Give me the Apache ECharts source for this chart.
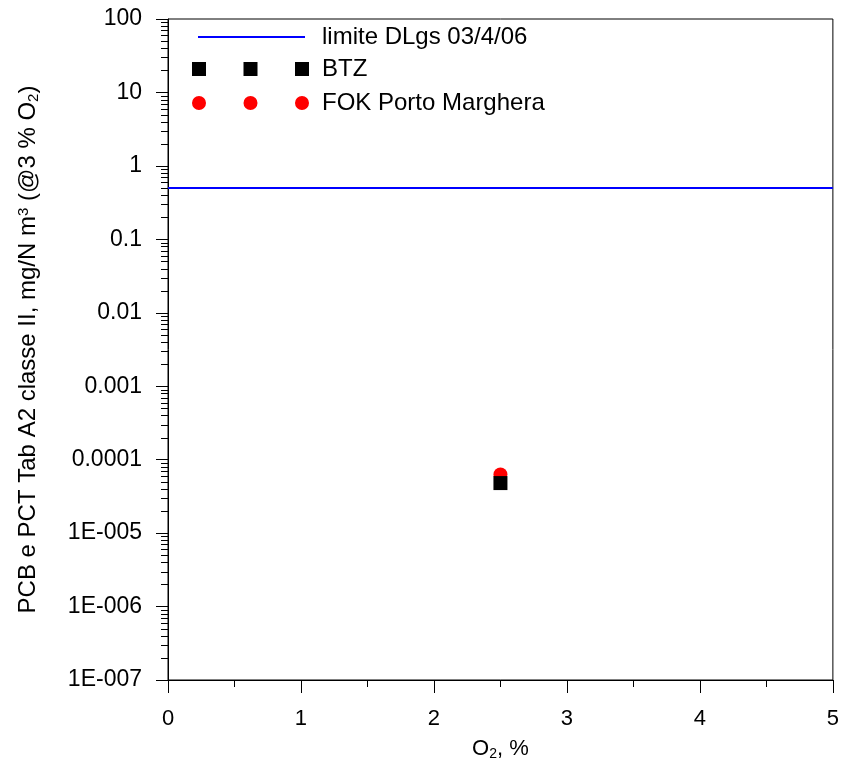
<!DOCTYPE html>
<html>
<head>
<meta charset="utf-8">
<script src="https://cdn.jsdelivr.net/npm/echarts@6/dist/echarts.min.js"></script>
<style>html,body{margin:0;padding:0;background:#fff;}#c{width:842px;height:767px;}</style>
</head>
<body>
<div id="c"></div>
<script>
// Data
const limitX = [0, 5];
const limitY = [0.5, 0.5];
const btzX = [2.5];
const btzY = [4.8e-5];
const fokX = [2.5];
const fokY = [6.3e-5];
const xTicks = ['0', '1', '2', '3', '4', '5'];
const yTickLabels = {'2':'100','1':'10','0':'1','-1':'0.1','-2':'0.01','-3':'0.001','-4':'0.0001','-5':'1E-005','-6':'1E-006','-7':'1E-007'};
const decades = [-7, -6, -5, -4, -3, -2, -1, 0, 1];
const minorMults = [2, 3, 4, 5, 6, 7, 8, 9];

const minorVals = [];
decades.forEach(d => minorMults.forEach(m => minorVals.push([0, m * Math.pow(10, d)])));

const font = 'Liberation Sans, Arial, sans-serif';
const chart = echarts.init(document.getElementById('c'), null, {renderer: 'canvas'});

const sqIcon = 'path://M0,0h14v14h-14z M51.5,0h14v14h-14z M103,0h14v14h-14z';
const ciIcon = 'path://M0,7a7,7 0 1,0 14,0a7,7 0 1,0 -14,0z M51.5,7a7,7 0 1,0 14,0a7,7 0 1,0 -14,0z M103,7a7,7 0 1,0 14,0a7,7 0 1,0 -14,0z';

chart.setOption({
  animation: false,
  backgroundColor: '#fff',
  grid: {left: 168, top: 19, right: 9, bottom: 87, show: true, borderColor: '#000', borderWidth: 1, backgroundColor: 'transparent'},
  legend: [
    {
      data: [{name: 'limite DLgs 03/4/06', icon: 'rect'}],
      left: 198, top: 25, padding: 0, itemWidth: 107, itemHeight: 2,
      textStyle: {fontFamily: font, fontSize: 24, color: '#000', padding: [0, 0, 0, 12]},
      selectedMode: false
    },
    {
      data: [{name: 'BTZ', icon: sqIcon}, {name: 'FOK Porto Marghera', icon: ciIcon}],
      orient: 'vertical',
      left: 192, top: 57, padding: 0, itemWidth: 117, itemHeight: 14, itemGap: 10,
      textStyle: {fontFamily: font, fontSize: 24, color: '#000', padding: [0, 0, 0, 8]},
      selectedMode: false
    }
  ],
  xAxis: {
    type: 'value', min: 0, max: 5, interval: 1,
    axisLine: {show: true, onZero: false, lineStyle: {color: '#000', width: 1}},
    axisTick: {show: true, inside: false, length: 13, lineStyle: {color: '#000'}},
    minorTick: {show: true, splitNumber: 2, length: 7, lineStyle: {color: '#000'}},
    splitLine: {show: false},
    axisLabel: {fontFamily: font, fontSize: 22, color: '#000', margin: 28,
      formatter: v => xTicks[Math.round(v)]},
    name: '{n|O}{s|2}{n|, %}', nameLocation: 'middle', nameGap: 57,
    nameTextStyle: {rich: {
      n: {fontFamily: font, fontSize: 22, color: '#000'},
      s: {fontFamily: font, fontSize: 14, color: '#000', verticalAlign: 'bottom', padding: [10, 0, 0, 0]}
    }}
  },
  yAxis: {
    type: 'log', logBase: 10, min: 1e-7, max: 100, interval: 1,
    axisLine: {show: true, onZero: false, lineStyle: {color: '#000', width: 1}},
    axisTick: {show: true, inside: false, length: 12, lineStyle: {color: '#000'}},
    splitLine: {show: false},
    axisLabel: {fontFamily: font, fontSize: 23, color: '#000', margin: 26,
      formatter: v => yTickLabels[String(Math.round(Math.log10(v)))] || ''},
    name: '{n|PCB e PCT Tab A2 classe II, mg/N m}{p|3}{n| (@3 % O}{s|2}{n|)}',
    nameLocation: 'middle', nameGap: 127, nameRotate: 90,
    nameTextStyle: {rich: {
      n: {fontFamily: font, fontSize: 24, color: '#000'},
      p: {fontFamily: font, fontSize: 15, color: '#000', verticalAlign: 'top', padding: [0, 0, 10, 0]},
      s: {fontFamily: font, fontSize: 15, color: '#000', verticalAlign: 'bottom', padding: [10, 0, 0, 0]}
    }}
  },
  series: [
    {
      name: 'limite DLgs 03/4/06', type: 'line', symbol: 'none', showSymbol: false,
      data: limitX.map((x, i) => [x, limitY[i]]),
      lineStyle: {color: '#0000ff', width: 2}, itemStyle: {color: '#0000ff'}, z: 2
    },
    {
      name: 'FOK Porto Marghera', type: 'scatter', symbol: 'circle', symbolSize: 14,
      data: fokX.map((x, i) => [x, fokY[i]]),
      itemStyle: {color: '#ff0000', opacity: 1}, z: 3
    },
    {
      name: 'BTZ', type: 'scatter', symbol: 'rect', symbolSize: 14,
      data: btzX.map((x, i) => [x, btzY[i]]),
      itemStyle: {color: '#000000', opacity: 1}, z: 4
    },
    {
      name: 'minorTicksY', type: 'custom', clip: false, silent: true,
      data: minorVals,
      renderItem: function (params, api) {
        const p = api.coord([api.value(0), api.value(1)]);
        const x0 = 168;
        return {type: 'line', shape: {x1: x0 - 7, y1: Math.round(p[1]) + 0.5, x2: x0, y2: Math.round(p[1]) + 0.5},
          style: {stroke: '#000', lineWidth: 1}};
      }
    }
  ]
});
</script>
</body>
</html>
